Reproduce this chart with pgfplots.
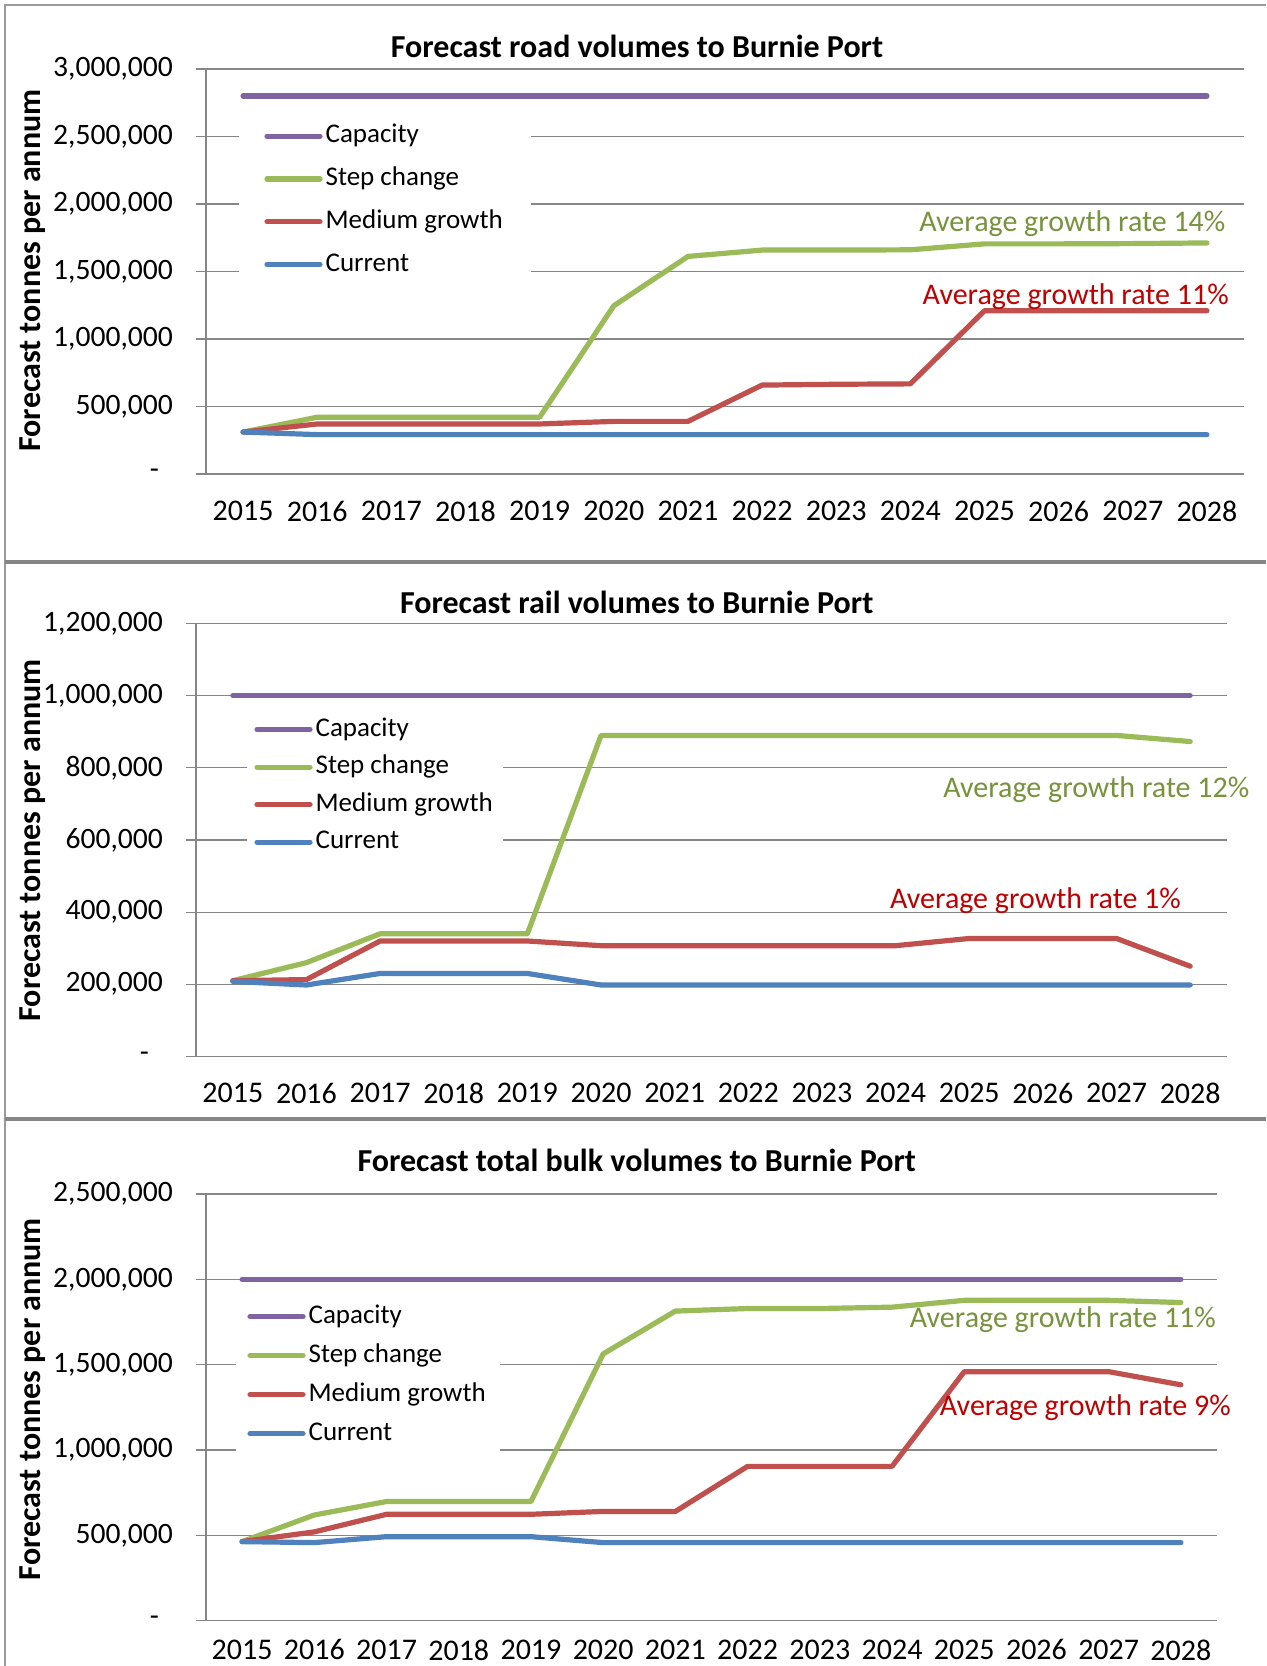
\documentclass[border=0pt]{standalone}
\usepackage{fontspec}
\setmainfont{Carlito}
\usepackage{pgfplots}
\usepackage{pgfplotstable}
\pgfplotsset{compat=1.18}
\definecolor{capc}{HTML}{8064A2}
\definecolor{stepc}{HTML}{9BBB59}
\definecolor{medc}{HTML}{C0504D}
\definecolor{curc}{HTML}{4F81BD}
\definecolor{gridc}{HTML}{868686}
\definecolor{bordc}{HTML}{9A9A9A}
\definecolor{annG}{HTML}{77933C}
\definecolor{annR}{HTML}{C00000}

\pgfplotstableread{
x cap step med cur
0 2800000 310000 310000 310000
1 2800000 420000 370000 291000
2 2800000 420000 370000 291000
3 2800000 420000 370000 291000
4 2800000 420000 370000 291000
5 2800000 1245000 389000 291000
6 2800000 1611000 389000 291000
7 2800000 1658000 658000 291000
8 2800000 1658000 664000 291000
9 2800000 1660000 667000 291000
10 2800000 1704000 1209000 291000
11 2800000 1704000 1209000 291000
12 2800000 1706000 1209000 291000
13 2800000 1711000 1209000 291000
}\road

\pgfplotstableread{
x cap step med cur
0 1000000 210000 210000 208000
1 1000000 260000 213000 198000
2 1000000 340000 320000 230000
3 1000000 340000 320000 230000
4 1000000 340000 320000 230000
5 1000000 890000 307000 198000
6 1000000 890000 307000 198000
7 1000000 890000 307000 198000
8 1000000 890000 307000 198000
9 1000000 890000 307000 198000
10 1000000 890000 327000 198000
11 1000000 890000 327000 198000
12 1000000 890000 327000 198000
13 1000000 873000 250000 198000
}\rail

\pgfplotstableread{
x cap step med cur
0 2000000 463000 463000 463000
1 2000000 619000 520000 457000
2 2000000 698000 623000 492000
3 2000000 698000 623000 492000
4 2000000 698000 623000 492000
5 2000000 1563000 640000 457000
6 2000000 1814000 640000 457000
7 2000000 1829000 904000 457000
8 2000000 1829000 904000 457000
9 2000000 1837000 904000 457000
10 2000000 1877000 1459000 457000
11 2000000 1877000 1459000 457000
12 2000000 1877000 1459000 457000
13 2000000 1864000 1382000 457000
}\total

\pgfplotsset{
  panel/.style={
    scale only axis, anchor=south west,
    xmin=-0.5, xmax=13.5,
    scaled y ticks=false,
    axis x line*=bottom, axis y line*=left,
    axis line style={gridc, line width=0.6pt},
    xtick={0,1,2,3,4,5,6,7,8,9,10,11,12,13},
    xticklabels={2015,2016,2017,2018,2019,2020,2021,2022,2023,2024,2025,2026,2027,2028},
    minor xtick={-0.5,0.5,1.5,2.5,3.5,4.5,5.5,6.5,7.5,8.5,9.5,10.5,11.5,12.5,13.5},
    xtick style={draw=none},
    ytick style={gridc, line width=0.6pt},
    minor tick style={gridc, line width=0.6pt},
    major tick length=5pt, minor tick length=5pt,
    tick align=outside,
    ymajorgrids, major grid style={gridc, line width=0.6pt},
    xticklabel style={font=\fontsize{15}{17}\selectfont, text=black, yshift=-5pt},
    yticklabel style={font=\fontsize{14.8}{17}\selectfont, text=black, xshift=-8pt},
    legend cell align=left,
    legend image code/.code={\draw[##1] (0pt,0pt) -- (26.5pt,0pt);},
    legend style={anchor=north west, draw=none, fill=white,
      font=\fontsize{13.5}{16}\selectfont,
      nodes={inner xsep=1.5pt, inner ysep=0pt, text height=10pt, text depth=3.5pt}},
  },
  sline/.style={line width=2.6pt, line cap=round, line join=round},
}

\begin{document}
\begin{tikzpicture}
\path[use as bounding box] (0,0) rectangle (633pt,-833pt);
\fill[white] (0,0) rectangle (633pt,-833pt);
\draw[bordc, line width=1pt] (2.5pt,-833pt) -- (2.5pt,-2.5pt) -- (633pt,-2.5pt);
\draw[gridc, line width=2pt] (2.5pt,-280.85pt) -- (633pt,-280.85pt);
\draw[gridc, line width=2pt] (2.5pt,-559.65pt) -- (633pt,-559.65pt);

% ---------- Panel 1: road ----------
\begin{axis}[panel, at={(103pt,-236.95pt)}, width=519pt, height=202.5pt,
  ymin=0, ymax=3000000,
  ytick={0,500000,1000000,1500000,2000000,2500000,3000000},
  yticklabels={{-\hspace*{7pt}},{500,000},{1,000,000},{1,500,000},{2,000,000},{2,500,000},{3,000,000}},
  legend style={at={(axis description cs:0.0318,0.898)}, inner xsep=12.5pt, inner ysep=6pt, row sep=7.9pt}]
\addplot[sline, capc] table[x=x,y=cap]{\road};
\addplot[sline, stepc] table[x=x,y=step]{\road};
\addplot[sline, medc] table[x=x,y=med]{\road};
\addplot[sline, curc] table[x=x,y=cur]{\road};
\legend{Capacity,Step change,Medium growth,Current}
\end{axis}

% ---------- Panel 2: rail ----------
\begin{axis}[panel, at={(98pt,-528.2pt)}, width=515.5pt, height=216.4pt,
  ymin=0, ymax=1200000,
  ytick={0,200000,400000,600000,800000,1000000,1200000},
  yticklabels={{-\hspace*{7pt}},{200,000},{400,000},{600,000},{800,000},{1,000,000},{1,200,000}},
  legend style={at={(axis description cs:0.0495,0.8057)}, inner xsep=3.5pt, inner ysep=4pt, row sep=5.25pt}]
\addplot[sline, capc] table[x=x,y=cap]{\rail};
\addplot[sline, stepc] table[x=x,y=step]{\rail};
\addplot[sline, medc] table[x=x,y=med]{\rail};
\addplot[sline, curc] table[x=x,y=cur]{\rail};
\legend{Capacity,Step change,Medium growth,Current}
\end{axis}

% ---------- Panel 3: total ----------
\begin{axis}[panel, at={(103pt,-810.3pt)}, width=505.5pt, height=213.3pt,
  ymin=0, ymax=2500000,
  xticklabel style={yshift=4pt},
  ytick={0,500000,1000000,1500000,2000000,2500000},
  yticklabels={{-\hspace*{7pt}},{500,000},{1,000,000},{1,500,000},{2,000,000},{2,500,000}},
  legend style={at={(axis description cs:0.0297,0.7684)}, inner xsep=5.5pt, inner ysep=5pt, row sep=6pt}]
\addplot[sline, capc] table[x=x,y=cap]{\total};
\addplot[sline, stepc] table[x=x,y=step]{\total};
\addplot[sline, medc] table[x=x,y=med]{\total};
\addplot[sline, curc] table[x=x,y=cur]{\total};
\legend{Capacity,Step change,Medium growth,Current}
\end{axis}

% titles
\node[anchor=base, font=\fontsize{16}{19}\selectfont\bfseries] at (318.5pt,-28.57pt) {Forecast road volumes to Burnie Port};
\node[anchor=base, font=\fontsize{16}{19}\selectfont\bfseries] at (318.35pt,-306.8pt) {Forecast rail volumes to Burnie Port};
\node[anchor=base, font=\fontsize{16}{19}\selectfont\bfseries] at (318.35pt,-585.5pt) {Forecast total bulk volumes to Burnie Port};

% y labels
\node[anchor=base, rotate=90, font=\fontsize{16}{19}\selectfont\bfseries] at (20.4pt,-135.25pt) {Forecast tonnes per annum};
\node[anchor=base, rotate=90, font=\fontsize{16}{19}\selectfont\bfseries] at (20.4pt,-420.2pt) {Forecast tonnes per annum};
\node[anchor=base, rotate=90, font=\fontsize{16}{19}\selectfont\bfseries] at (20.4pt,-699.5pt) {Forecast tonnes per annum};

% annotations
\node[anchor=base east, inner sep=0pt, text=annG, font=\fontsize{15}{17}\selectfont] at (612.85pt,-115.7pt) {Average growth rate 14\%};
\node[anchor=base east, inner sep=0pt, text=annR, font=\fontsize{15}{17}\selectfont] at (614.5pt,-152.15pt) {Average growth rate 11\%};
\node[anchor=base east, inner sep=0pt, text=annG, font=\fontsize{15}{17}\selectfont] at (624.8pt,-398.75pt) {Average growth rate 12\%};
\node[anchor=base east, inner sep=0pt, text=annR, font=\fontsize{15}{17}\selectfont] at (590.6pt,-454.1pt) {Average growth rate 1\%};
\node[anchor=base east, inner sep=0pt, text=annG, font=\fontsize{15}{17}\selectfont] at (608.1pt,-663.5pt) {Average growth rate 11\%};
\node[anchor=base east, inner sep=0pt, text=annR, font=\fontsize{15}{17}\selectfont] at (615.5pt,-707.85pt) {Average growth rate 9\%};
\end{tikzpicture}
\end{document}
